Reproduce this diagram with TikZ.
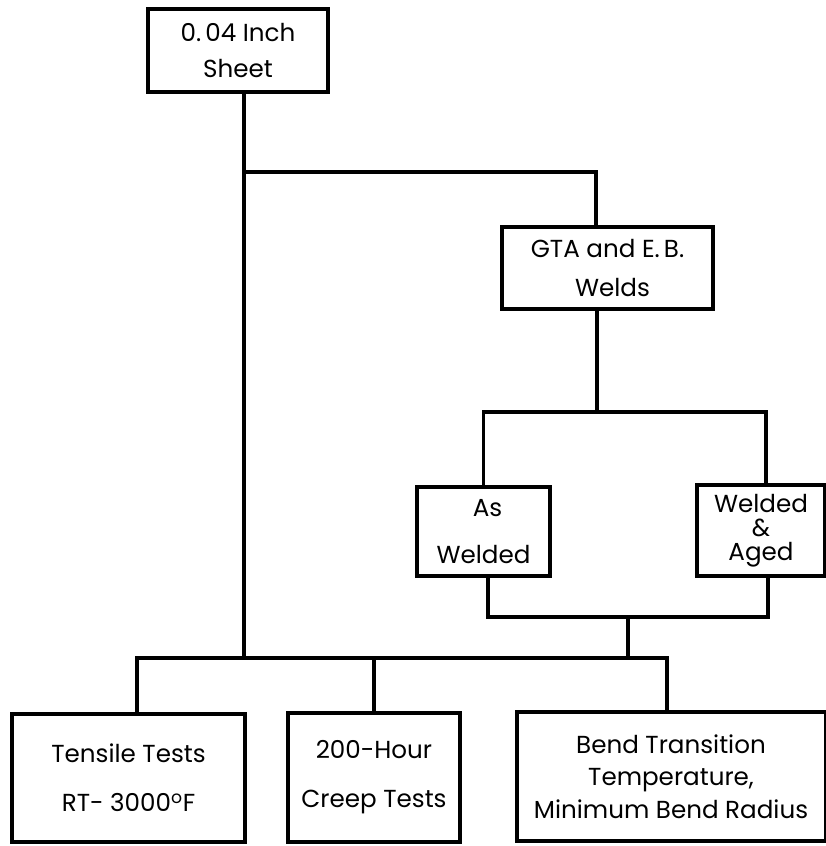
\documentclass[tikz,border=0pt]{standalone}
\usepackage{fontspec}
\setmainfont{Poppins}
\usetikzlibrary{calc,positioning}

\begin{document}
\begin{tikzpicture}[
    x=0.025cm, y=-0.025cm,
    font=\fontsize{17.5}{22}\selectfont,
    box/.style={draw, line width=2.2pt, align=center, inner sep=0pt},
    wire/.style={line width=2.6pt}
]
\useasboundingbox (0,0) rectangle (826,846);

% =========================================================================
% 1. BLOQUES
% =========================================================================
\node[box, minimum width=4.5cm, minimum height=2.075cm] (sheet) at (238, 50.5)
    {0.\,04 Inch\\[4pt]Sheet};
\node[box, minimum width=5.275cm, minimum height=2.05cm] (gta) at (607.5, 268)
    {GTA and E.\,B.\\[6pt]\hspace*{0.25cm}Welds};

\node[box, minimum width=3.325cm, minimum height=2.225cm] (aswelded) at (483.5, 531.5)
    {\hspace*{0.2cm}As\\[11pt]Welded};
\node[box, minimum width=3.2cm, minimum height=2.275cm] (aged) at (761, 530.5)
    {Welded\\[-5pt]\&\\[-5pt]Aged};

\node[box, minimum width=5.825cm, minimum height=3.2cm] (tensile) at (128.5, 778)
    {Tensile Tests\\[13pt]RT- 3000\textsuperscript{o}F};
\node[box, minimum width=4.3cm, minimum height=3.225cm] (creep) at (374, 777.5)
    {200-Hour\\[13pt]Creep Tests};
\node[box, minimum width=7.7cm, minimum height=3.225cm] (bend) at (671, 776.5)
    {Bend Transition\\[1pt]Temperature,\\[1pt]Minimum Bend Radius};

% =========================================================================
% 2. CONEXIONES
% =========================================================================
\coordinate (jtop)  at (244, 172);
\coordinate (jbot)  at (244, 658);
\coordinate (jweld) at (597, 412);
\coordinate (jage)  at (628, 617);

% Tronco principal
\draw[wire] (sheet.south -| jtop) -- (jbot);
\draw[wire] (jtop) -| ($(gta.north)+(-11.5,0)$);

% Soldaduras
\draw[wire] ($(gta.south)+(-10.5,0)$) -- (jweld);
\draw[wire] (aswelded.north) |- (jweld) -| ($(aged.north)+(5,0)$);
\draw[wire] ($(aswelded.south)+(4.5,0)$) |- (jage) -| ($(aged.south)+(7,0)$);
\draw[wire] (jage) -- (jage |- jbot);

% Ensayos
\draw[wire] ($(tensile.north)+(8.5,0)$) |- (jbot) -| ($(bend.north)+(-4,0)$);
\draw[wire] (creep.north) -- (creep.north |- jbot);

\end{tikzpicture}
\end{document}
